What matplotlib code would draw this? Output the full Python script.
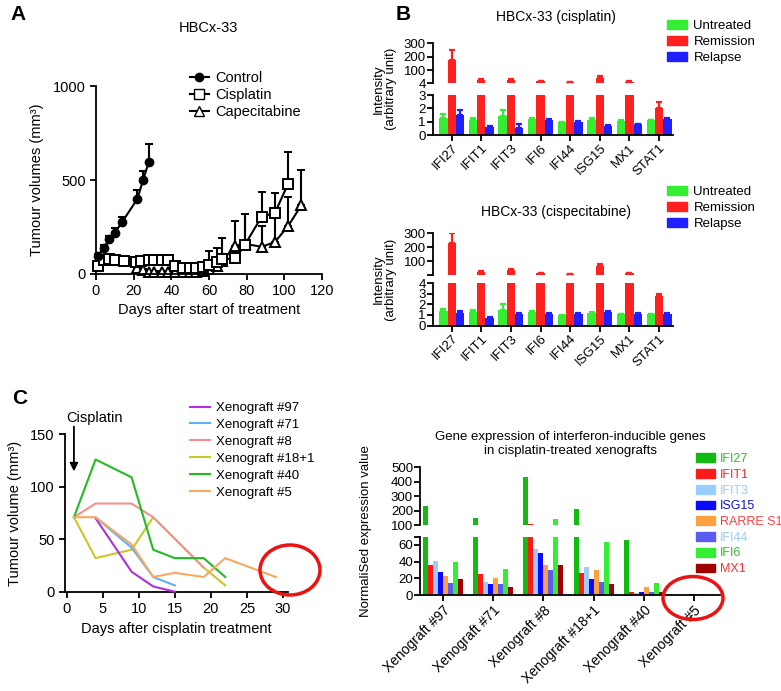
import numpy as np
import matplotlib
matplotlib.use('Agg')
import matplotlib.pyplot as plt
from matplotlib.patches import Patch, Ellipse
from matplotlib.lines import Line2D

plt.rcParams['font.family'] = ['Liberation Sans', 'DejaVu Sans']
plt.rcParams['axes.linewidth'] = 1.3
plt.rcParams['axes.facecolor'] = 'none'

############## panel A data
ctrl_days = [1, 4, 7, 10, 14, 22, 25, 28]
ctrl_vol = [95, 137, 185, 220, 278, 400, 500, 595]
ctrl_err = [10, 15, 15, 25, 25, 45, 50, 95]

cis_days = [1, 4, 7, 10, 15, 21, 24, 28, 31, 35, 38, 42, 46, 50, 53, 57, 60, 64, 67, 74, 79, 88, 95, 102]
cis_vol = [40, 75, 78, 74, 70, 65, 70, 75, 75, 75, 75, 40, 30, 30, 30, 35, 50, 65, 78, 83, 155, 305, 325, 480]
cis_err = [5, 5, 5, 5, 5, 5, 10, 10, 10, 10, 10, 5, 5, 5, 5, 5, 70, 75, 20, 10, 165, 130, 105, 170]

cape_days = [22, 25, 28, 31, 35, 38, 42, 46, 50, 53, 57, 60, 64, 67, 74, 79, 88, 95, 102, 109]
cape_vol = [30, 20, 12, 10, 10, 10, 10, 10, 10, 10, 15, 25, 45, 70, 150, 160, 145, 170, 255, 365]
cape_err = [5, 5, 5, 5, 5, 5, 5, 5, 5, 5, 10, 20, 30, 120, 130, 160, 110, 150, 155, 190]

############## panel B data
genes_b = ['IFI27', 'IFIT1', 'IFIT3', 'IFI6', 'IFI44', 'ISG15', 'MX1', 'STAT1']

cis_untreated = [1.3, 1.1, 1.4, 1.2, 0.95, 1.1, 1.05, 1.1]
cis_untreated_err = [0.3, 0.2, 0.5, 0.1, 0.05, 0.15, 0.05, 0.05]
cis_remission = [180, 25, 25, 18, 12, 45, 15, 2.0]
cis_remission_err = [70, 8, 8, 6, 4, 15, 4, 0.5]
cis_relapse = [1.5, 0.6, 0.55, 1.1, 1.0, 0.7, 0.8, 1.2]
cis_relapse_err = [0.4, 0.1, 0.3, 0.1, 0.05, 0.05, 0.05, 0.05]

cap_untreated = [1.4, 1.3, 1.5, 1.3, 0.95, 1.2, 1.05, 1.05]
cap_untreated_err = [0.2, 0.15, 0.5, 0.1, 0.05, 0.1, 0.05, 0.05]
cap_remission = [230, 28, 40, 16, 9, 68, 16, 2.8]
cap_remission_err = [70, 6, 8, 4, 3, 12, 3, 0.15]
cap_relapse = [1.2, 0.75, 1.05, 1.1, 1.1, 1.3, 1.05, 1.1]
cap_relapse_err = [0.15, 0.1, 0.15, 0.1, 0.1, 0.1, 0.1, 0.05]

############## panel C data (tumour volume)
xeno_names = ['Xenograft #97', 'Xenograft #71', 'Xenograft #8', 'Xenograft #18+1', 'Xenograft #40', 'Xenograft #5']
x97_days = [4, 9, 12, 15]
x97_vol = [70, 19, 5, 0]
x71_days = [4, 9, 12, 15]
x71_vol = [71, 42, 14, 6]
x8_days = [1, 4, 9, 12, 19]
x8_vol = [71, 84, 84, 71, 23]
x18_days = [1, 4, 9, 12, 19, 22]
x18_vol = [71, 32, 40, 71, 23, 6]
x40_days = [1, 4, 9, 12, 15, 19, 22]
x40_vol = [71, 126, 109, 40, 32, 32, 14]
x5_days = [1, 4, 9, 12, 15, 19, 22, 29]
x5_vol = [71, 71, 45, 14, 18, 14, 32, 14]

############## panel C data (gene expression)
genes_c = ['IFI27', 'IFIT1', 'IFIT3', 'ISG15', 'RARRE S1', 'IFI44', 'IFI6', 'MX1']
ifi27 = [230, 150, 430, 210, 66, 0.5]
ifit1 = [36, 25, 104, 26, 4, 0.3]
ifit3 = [41, 16, 55, 34, 2, 0.3]
isg15 = [27, 13, 50, 19, 4, 1.0]
rarres1 = [23, 20, 36, 30, 9, 0.3]
ifi44 = [14, 13, 30, 16, 4, 0.6]
ifi6 = [40, 31, 145, 63, 14, 0.5]
mx1 = [19, 10, 36, 13, 4, 0.3]

W, H = 781, 691
fig = plt.figure(figsize=(W / 100, H / 100), dpi=100)


def px_axes(x0, y0, x1, y1):
    return fig.add_axes([x0 / W, 1 - y1 / H, (x1 - x0) / W, (y1 - y0) / H])


def ftext(x, y, s, **kw):
    return fig.text(x / W, 1 - y / H, s, **kw)


def clean(ax, bottom=True):
    ax.spines['top'].set_visible(False)
    ax.spines['right'].set_visible(False)
    if not bottom:
        ax.spines['bottom'].set_visible(False)
    ax.tick_params(direction='out', length=4, width=1.3)


def up(e):
    return [np.zeros(len(e)), e]


def keep_mask(vals, floor):
    vals = np.asarray(vals, dtype=float)
    if floor is None:
        return np.ones(len(vals), bool)
    return vals > floor


############## A
ftext(10, 14, 'A', fontsize=15, fontweight='bold', va='center')
axA = px_axes(96, 86, 322, 274)
axA.errorbar(cis_days, cis_vol, yerr=up(cis_err), fmt='-s', color='k', mfc='white', ms=7,
             mew=1.4, lw=1.5, capsize=3, elinewidth=1.5, capthick=1.5, clip_on=False, zorder=3)
axA.errorbar(cape_days, cape_vol, yerr=up(cape_err), fmt='-^', color='k', mfc='white', ms=7,
             mew=1.4, lw=1.5, capsize=3, elinewidth=1.5, capthick=1.5, clip_on=False, zorder=2)
axA.errorbar(ctrl_days, ctrl_vol, yerr=up(ctrl_err), fmt='-o', color='k', mfc='k', ms=6,
             lw=1.5, capsize=3, elinewidth=1.5, capthick=1.5, clip_on=False, zorder=4)
axA.set_xlim(0, 120)
axA.set_ylim(0, 1000)
axA.set_xticks(range(0, 121, 20))
axA.set_yticks([0, 500, 1000])
clean(axA)
axA.tick_params(labelsize=10.5)
axA.set_xlabel('Days after start of treatment', fontsize=10.5, labelpad=3)
axA.set_ylabel('Tumour volumes (mm³)', fontsize=10.5, labelpad=6)
ftext(208, 28, 'HBCx-33', ha='center', va='center', fontsize=10.5)
handlesA = [Line2D([], [], color='k', marker='o', mfc='k', ms=6, lw=1.5),
            Line2D([], [], color='k', marker='s', mfc='white', ms=7, lw=1.5),
            Line2D([], [], color='k', marker='^', mfc='white', ms=7, lw=1.5)]
fig.legend(handlesA, ['Control', 'Cisplatin', 'Capecitabine'], frameon=False, fontsize=10.5,
           loc='upper left', bbox_to_anchor=(190 / W, 1 - 71 / H), bbox_transform=fig.transFigure,
           handlelength=1.3, handletextpad=0.4, labelspacing=0.2, borderpad=0, borderaxespad=0)

############## B
GREEN, RED, BLUE = '#33ee33', '#ff2020', '#2020ff'


def panel_b(y_top, y_brk1, y_brk2, y_bot, lo_max, up_ticks, up_labels, title, title_y, leg_y,
            untreated, untreated_err, remission, remission_err, relapse, relapse_err):
    x = np.arange(len(genes_b))
    ax_up = px_axes(432.7, y_top, 673, y_brk1)
    ax_lo = px_axes(432.7, y_brk2, 673, y_bot)
    for ax, floor in ((ax_up, 4), (ax_lo, None)):
        for off, vals, errs, col in ((-0.28, untreated, untreated_err, GREEN),
                                     (0.0, remission, remission_err, RED),
                                     (0.28, relapse, relapse_err, BLUE)):
            k = keep_mask(vals, floor)
            if not k.any():
                continue
            xs = (x + off)[k]
            vs = np.asarray(vals, dtype=float)[k]
            es = np.asarray(errs, dtype=float)[k]
            ax.bar(xs, vs, 0.28, color=col, linewidth=0, zorder=2)
            ax.errorbar(xs, vs, yerr=up(es), fmt='none', ecolor=col, elinewidth=1.6,
                        capsize=2, capthick=1.6, zorder=2)
        ax.set_xlim(-0.64, 7.47)
    ax_up.set_ylim(4, 300)
    ax_up.set_yticks(up_ticks)
    ax_up.set_yticklabels(up_labels)
    ax_up.set_xticks([])
    clean(ax_up, bottom=False)
    ax_up.tick_params(labelsize=9.5, pad=1)
    ax_lo.set_ylim(0, lo_max)
    ax_lo.set_yticks(range(0, lo_max + 1))
    ax_lo.set_xticks(x)
    ax_lo.set_xticklabels(genes_b, rotation=45, ha='right', va='top', rotation_mode='anchor', fontsize=9.5)
    clean(ax_lo)
    ax_lo.tick_params(labelsize=9.5, pad=1)
    ftext(556, title_y, title, ha='center', va='center', fontsize=10)
    ftext(385, (y_top + y_bot) / 2, 'Intensity\n(arbitrary unit)', rotation=90, ha='center',
          va='center', fontsize=9.5, linespacing=1.0)
    hb = [Patch(color=GREEN), Patch(color=RED), Patch(color=BLUE)]
    fig.legend(hb, ['Untreated', 'Remission', 'Relapse'], frameon=False, fontsize=9.5,
               loc='upper left', bbox_to_anchor=(667 / W, 1 - leg_y / H), bbox_transform=fig.transFigure,
               handlelength=1.5, handleheight=0.65, handletextpad=0.5, labelspacing=0.3,
               borderpad=0, borderaxespad=0)


ftext(396, 14, 'B', fontsize=15, fontweight='bold', va='center')
panel_b(43.3, 83.3, 95, 135, 3, [4, 100, 200, 300], ['4', '100', '200', '300'],
        'HBCx-33 (cisplatin)', 17, 20,
        cis_untreated, cis_untreated_err, cis_remission, cis_remission_err, cis_relapse, cis_relapse_err)
panel_b(233.3, 275, 283.3, 325.5, 4, [4, 100, 200, 300], ['', '100', '200', '300'],
        'HBCx-33 (cispecitabine)', 212, 186,
        cap_untreated, cap_untreated_err, cap_remission, cap_remission_err, cap_relapse, cap_relapse_err)

############## C left
ftext(12, 398, 'C', fontsize=15, fontweight='bold', va='center')
axC = px_axes(65, 434.3, 288, 591.7)
xeno_colors = ['#b030e0', '#60b0f0', '#f59090', '#c8c828', '#22bb22', '#f8a860']
series = [(x97_days, x97_vol), (x71_days, x71_vol), (x8_days, x8_vol),
          (x18_days, x18_vol), (x40_days, x40_vol), (x5_days, x5_vol)]
zorders = [3, 3, 3, 2, 3, 3]
for (d, v), col, name, zo in zip(series, xeno_colors, xeno_names, zorders):
    axC.plot(d, v, color=col, lw=1.5, label=name, zorder=zo, clip_on=False)
axC.set_xlim(-0.24, 30.7)
axC.set_ylim(0, 150)
axC.set_xticks(range(0, 31, 5))
axC.set_yticks([0, 50, 100, 150])
clean(axC)
axC.tick_params(labelsize=10.5)
axC.set_xlabel('Days after cisplatin treatment', fontsize=10.5, labelpad=4)
axC.set_ylabel('Tumour volume (mm³)', fontsize=10.5, labelpad=6)
axC.annotate('', xy=(1, 112), xytext=(1, 160), annotation_clip=False,
             arrowprops=dict(arrowstyle='-|>', color='k', lw=1.3, mutation_scale=12))
axC.text(0, 166, 'Cisplatin', fontsize=10.5, ha='left', va='center', clip_on=False)
fig.legend(*axC.get_legend_handles_labels(), frameon=False, fontsize=9.5, loc='upper left',
           bbox_to_anchor=(190 / W, 1 - 402 / H), bbox_transform=fig.transFigure,
           handlelength=1.5, handletextpad=0.5, labelspacing=0.35, borderpad=0, borderaxespad=0)
fig.patches.append(Ellipse((290 / W, 1 - 570 / H), 60 / W, 50 / H, transform=fig.transFigure,
                           fill=False, edgecolor='#ee1111', lw=2.5))

############## C right
gene_colors = ['#11bb11', '#ff1a1a', '#99ccff', '#0a0aff', '#ffa040', '#5c5cf0', '#33ee33', '#a00000']
text_colors = ['#33bb33', '#ff2a2a', '#99ccff', '#1111dd', '#ff4040', '#99ccff', '#33bb33', '#ff3030']
gene_vals = [ifi27, ifit1, ifit3, isg15, rarres1, ifi44, ifi6, mx1]
xg = np.arange(len(xeno_names))
axR_up = px_axes(420, 467.3, 720, 525)
axR_lo = px_axes(420, 536.5, 720, 595)
for ax, floor in ((axR_up, 100), (axR_lo, None)):
    for j, (vals, col) in enumerate(zip(gene_vals, gene_colors)):
        k = keep_mask(vals, floor)
        if k.any():
            ax.bar((xg + (j - 3.5) * 0.1)[k], np.asarray(vals, dtype=float)[k], 0.1,
                   color=col, linewidth=0)
    ax.set_xlim(-0.46, 5.52)
axR_up.set_ylim(100, 500)
axR_up.set_yticks([100, 200, 300, 400, 500])
axR_up.set_xticks([])
clean(axR_up, bottom=False)
axR_up.tick_params(labelsize=9.5, pad=1)
axR_lo.set_ylim(0, 70)
axR_lo.set_yticks([0, 20, 40, 60, 70])
axR_lo.set_yticklabels(['0', '20', '40', '60', ''])
axR_lo.set_xticks(xg)
axR_lo.set_xticklabels(xeno_names, rotation=45, ha='right', va='top', rotation_mode='anchor', fontsize=10)
clean(axR_lo)
axR_lo.tick_params(labelsize=9.5, pad=1)
axR_lo.tick_params(axis='x', labelsize=10, pad=2)
ftext(366, 531, 'NormaliSed expression value', rotation=90, ha='center', va='center', fontsize=9.5)
ftext(570, 444, 'Gene expression of interferon-inducible genes\nin cisplatin-treated xenografts',
      ha='center', va='center', fontsize=9.5, linespacing=1.2)
hr = [Patch(color=c) for c in gene_colors]
legR = fig.legend(hr, genes_c, frameon=False, fontsize=9, loc='upper left',
                  bbox_to_anchor=(696 / W, 1 - 453 / H), bbox_transform=fig.transFigure,
                  handlelength=1.5, handleheight=0.7, handletextpad=0.4,
                  labelspacing=0.3, borderpad=0, borderaxespad=0)
for t, c in zip(legR.get_texts(), text_colors):
    t.set_color(c)
fig.patches.append(Ellipse((693 / W, 1 - 598 / H), 60 / W, 43 / H, transform=fig.transFigure,
                           fill=False, edgecolor='#ee1111', lw=2.5))

plt.savefig('out.png', dpi=100)
